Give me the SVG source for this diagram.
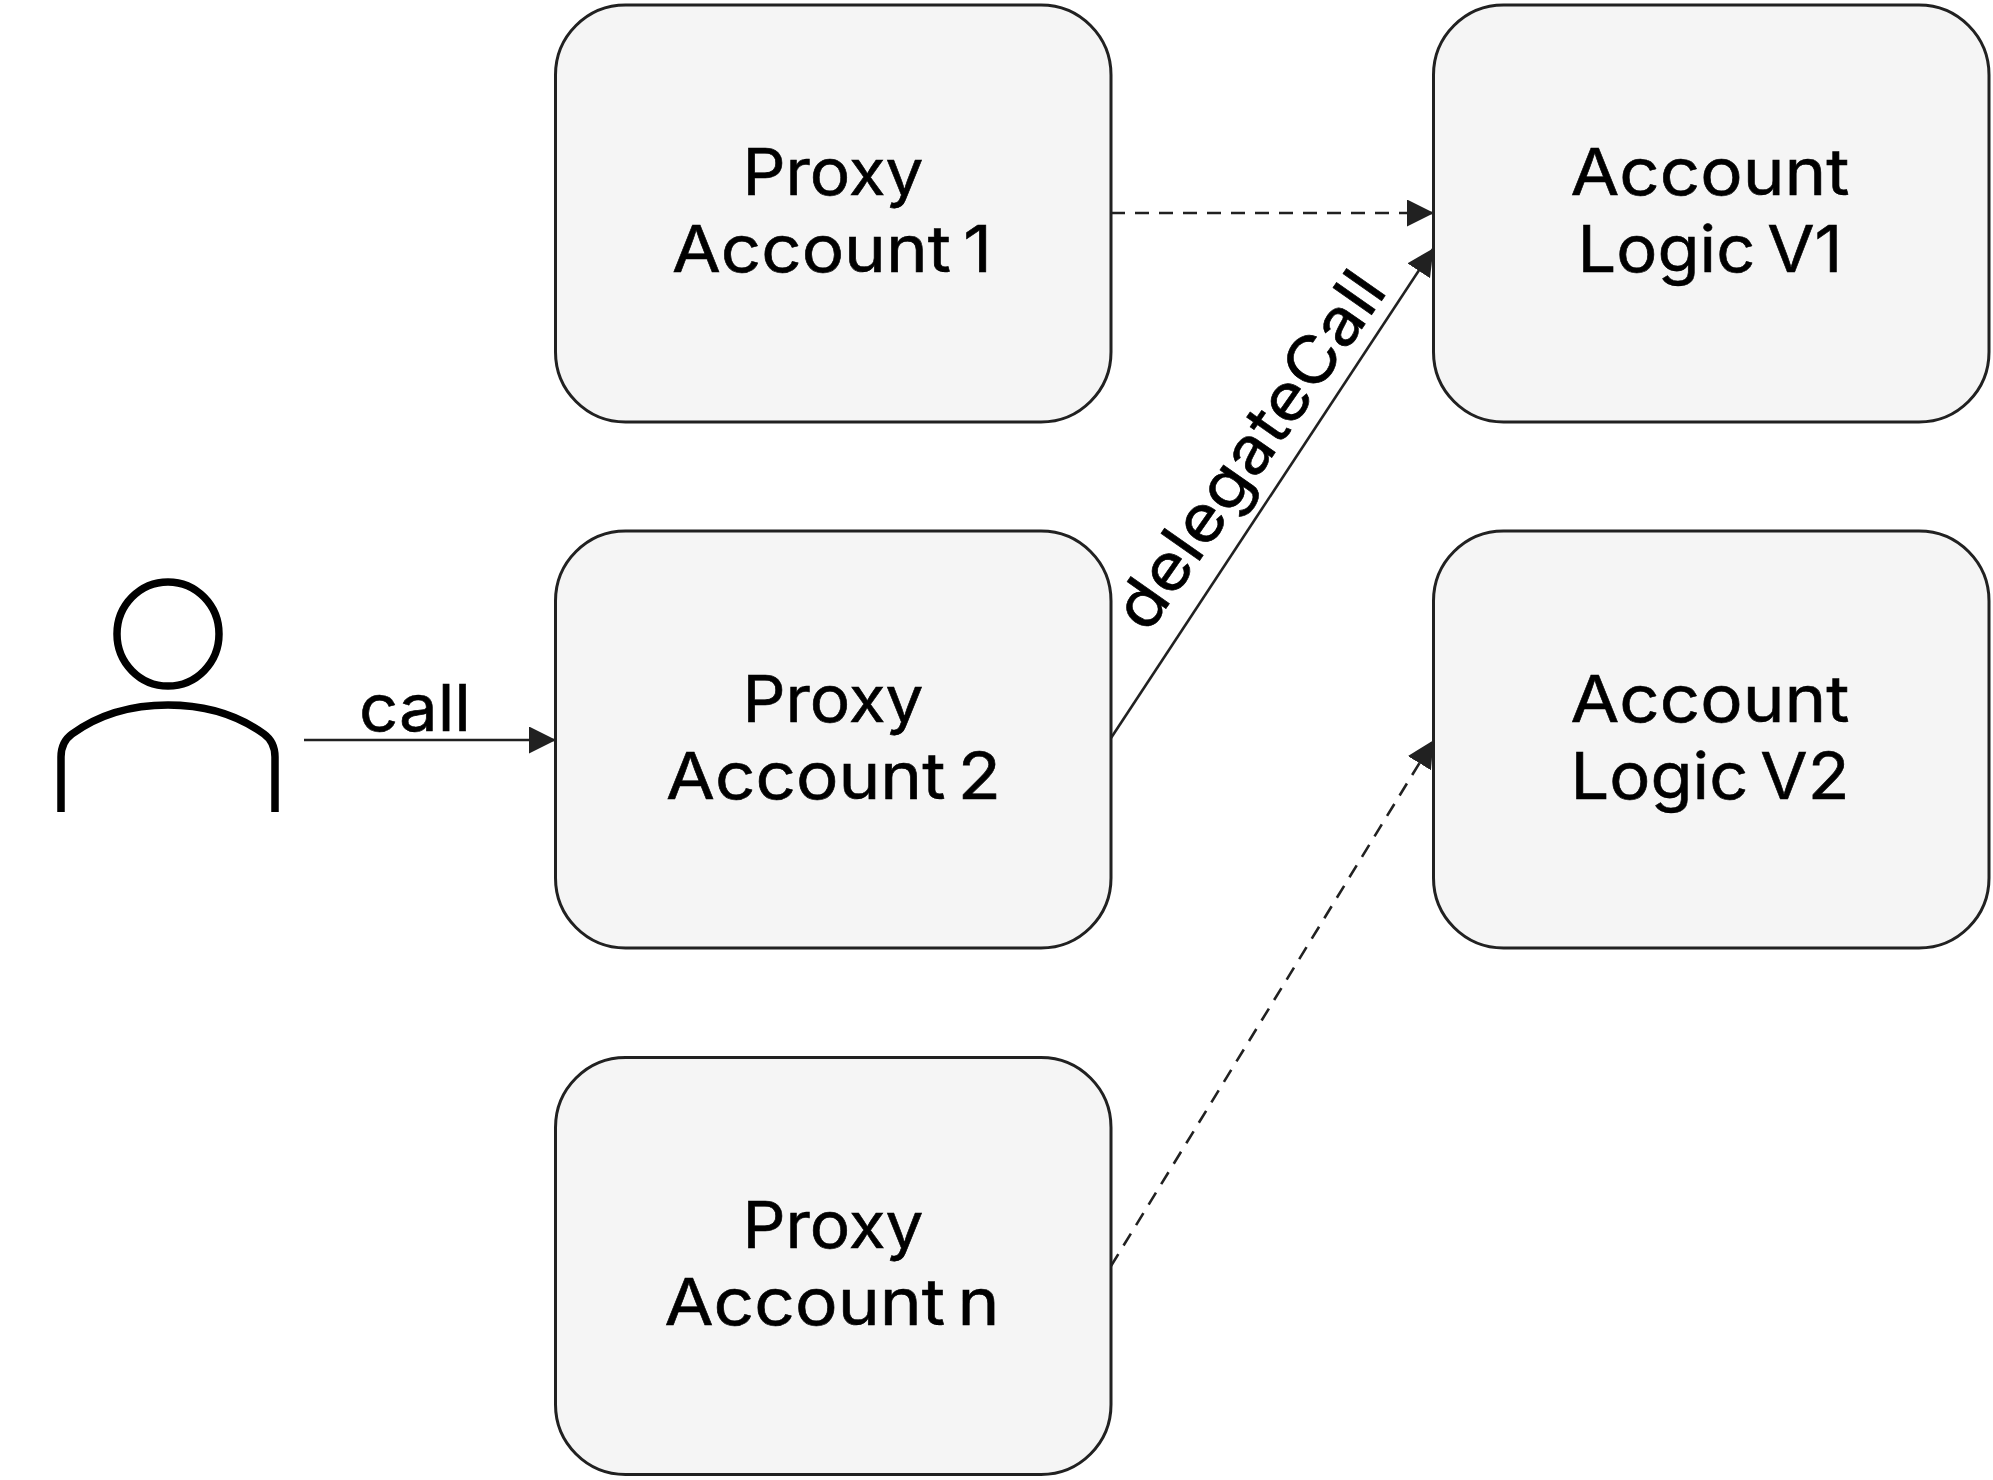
<svg xmlns="http://www.w3.org/2000/svg" width="1993" height="1480" viewBox="0 0 1993 1480">
<style>
.n{fill:#f5f5f5;stroke:#212121;stroke-width:3}
text{font-family:Inter,"Liberation Sans",sans-serif;font-size:65px;fill:#000;text-anchor:middle;stroke:#000;stroke-width:.6}
.w{word-spacing:-7px}
.c{fill:none;stroke:#212121;stroke-width:2.6}
.d{stroke-dasharray:14 10}
.i{fill:none;stroke:#000;stroke-width:7.5}
</style>
<defs><marker id="a" markerUnits="userSpaceOnUse" markerWidth="28" markerHeight="28" refX="26" refY="13.5" orient="auto"><path d="M0 0L27 13.5L0 27Z" fill="#212121"/></marker></defs>
<rect width="1993" height="1480" fill="#fff"/>
<g id="user"><ellipse class="i" cx="168" cy="634" rx="51" ry="52"/><path class="i" d="M61 812V757Q61 742 72 734Q112 705 168 705Q224 705 264 734Q275 742 275 757V812"/></g>
<g id="proxy1"><rect class="n" x="555.5" y="5" width="555.5" height="417" rx="70"/><text x="833" y="195" textLength="181" lengthAdjust="spacingAndGlyphs">Proxy</text><text class="w" x="832" y="272" textLength="320" lengthAdjust="spacingAndGlyphs">Account 1</text></g>
<g id="proxy2"><rect class="n" x="555.5" y="531" width="555.5" height="417" rx="70"/><text x="833" y="722" textLength="181" lengthAdjust="spacingAndGlyphs">Proxy</text><text class="w" x="833.5" y="799" textLength="335" lengthAdjust="spacingAndGlyphs">Account 2</text></g>
<g id="proxyn"><rect class="n" x="555.5" y="1057.5" width="555.5" height="417" rx="70"/><text x="833" y="1248" textLength="181" lengthAdjust="spacingAndGlyphs">Proxy</text><text class="w" x="832" y="1325" textLength="335" lengthAdjust="spacingAndGlyphs">Account n</text></g>
<g id="logic1"><rect class="n" x="1433.5" y="5" width="555.5" height="417" rx="70"/><text x="1710" y="195" textLength="279" lengthAdjust="spacingAndGlyphs">Account</text><text class="w" x="1710" y="272" textLength="265" lengthAdjust="spacingAndGlyphs">Logic V1</text></g>
<g id="logic2"><rect class="n" x="1433.5" y="531" width="555.5" height="417" rx="70"/><text x="1710" y="722" textLength="279" lengthAdjust="spacingAndGlyphs">Account</text><text class="w" x="1710" y="799" textLength="279" lengthAdjust="spacingAndGlyphs">Logic V2</text></g>
<g id="connectors">
<path class="c" d="M304 740H555" marker-end="url(#a)"/>
<path class="c d" d="M1111 213H1433" marker-end="url(#a)"/>
<path class="c" d="M1111 738L1433 249" marker-end="url(#a)"/>
<path class="c d" d="M1111 1266L1433 741" marker-end="url(#a)"/>
<text x="415" y="731" textLength="112" lengthAdjust="spacingAndGlyphs">call</text>
<text transform="translate(1268 463) rotate(-55)" x="0" y="0" textLength="420" lengthAdjust="spacingAndGlyphs">delegateCall</text>
</g>
</svg>
